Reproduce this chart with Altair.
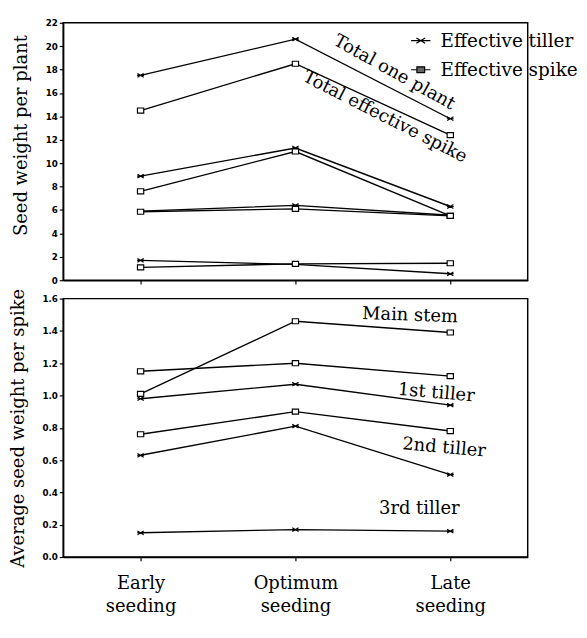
import json
import altair as alt
import pandas as pd

# ---------------- data ----------------
seedings = ["Early seeding", "Optimum seeding", "Late seeding"]
types = ["Effective tiller", "Effective spike"]

# upper panel: seed weight per plant
top_total_tiller = [17.5, 20.6, 13.8]
top_total_spike = [14.5, 18.5, 12.4]
top_main_tiller = [8.9, 11.3, 6.3]
top_main_spike = [7.6, 11.0, 5.5]
top_1st_tiller = [5.9, 6.4, 5.55]
top_1st_spike = [5.85, 6.1, 5.5]
top_2nd_tiller = [1.7, 1.35, 0.55]
top_2nd_spike = [1.1, 1.4, 1.45]

# lower panel: average seed weight per spike
bot_main_spike = [1.01, 1.46, 1.39]
bot_1st_spike = [1.15, 1.20, 1.12]
bot_1st_tiller = [0.98, 1.07, 0.94]
bot_2nd_spike = [0.76, 0.90, 0.78]
bot_2nd_tiller = [0.63, 0.81, 0.51]
bot_3rd_tiller = [0.15, 0.17, 0.16]

# curve labels (seeding position index, value, text angle)
top_labels = ["Total one plant", "Total effective spike"]
top_label_pos = [1.64, 1.58]
top_label_val = [17.8, 14.0]
top_label_angle = [29, 27]

bot_labels = ["Main stem", "1st tiller", "2nd tiller", "3rd tiller"]
bot_label_pos = [1.74, 1.91, 1.96, 1.80]
bot_label_val = [1.50, 1.02, 0.68, 0.30]
bot_label_angle = [2, 5, 5, 0]

# ---------------- tables ----------------
def long_table(series):
    rows = []
    for name, typ, vals in series:
        for i, v in enumerate(vals):
            rows.append({"key": name + "|" + typ, "type": typ, "pos": i,
                         "seeding": seedings[i], "value": v})
    return pd.DataFrame(rows)

top_df = long_table([
    ("Total", "Effective tiller", top_total_tiller),
    ("Total", "Effective spike", top_total_spike),
    ("Main stem", "Effective tiller", top_main_tiller),
    ("Main stem", "Effective spike", top_main_spike),
    ("1st tiller", "Effective tiller", top_1st_tiller),
    ("1st tiller", "Effective spike", top_1st_spike),
    ("2nd tiller", "Effective tiller", top_2nd_tiller),
    ("2nd tiller", "Effective spike", top_2nd_spike),
])
bot_df = long_table([
    ("Main stem", "Effective spike", bot_main_spike),
    ("1st tiller", "Effective spike", bot_1st_spike),
    ("1st tiller", "Effective tiller", bot_1st_tiller),
    ("2nd tiller", "Effective spike", bot_2nd_spike),
    ("2nd tiller", "Effective tiller", bot_2nd_tiller),
    ("3rd tiller", "Effective tiller", bot_3rd_tiller),
])
top_ann = pd.DataFrame({"label": top_labels, "pos": top_label_pos,
                        "value": top_label_val, "angle": top_label_angle})
bot_ann = pd.DataFrame({"label": bot_labels, "pos": bot_label_pos,
                        "value": bot_label_val, "angle": bot_label_angle})

# ---------------- styling ----------------
TILLER = "M-1,-0.6L1,0.6M-1,0.6L1,-0.6M-1.1,0L1.1,0"
SPIKE = "M-1,-0.8L1,-0.8L1,0.8L-1,0.8Z"
TILLER_KEY = "M-2,0L2,0M-0.9,-0.55L0.9,0.55M-0.9,0.55L0.9,-0.55"
SPIKE_KEY = "M-2,0L-0.8,0M0.8,0L2,0M-0.8,-0.6L0.8,-0.6L0.8,0.6L-0.8,0.6Z"
SERIF = "DejaVu Serif"

label_expr = "split(" + json.dumps(seedings) + "[datum.value], ' ')"


def xenc(bottom):
    if bottom:
        axis = alt.Axis(values=[0, 1, 2], labelExpr=label_expr, title=None,
                        labelFont=SERIF, labelFontSize=18.5, labelFontWeight="normal",
                        labelLineHeight=23, labelPadding=14, grid=False)
    else:
        axis = alt.Axis(values=[0, 1, 2], labels=False, title=None, grid=False)
    return alt.X("pos:Q", scale=alt.Scale(domain=[-0.5, 2.5], nice=False, zero=False),
                 axis=axis)


y_top = alt.Y("value:Q", scale=alt.Scale(domain=[0, 22], nice=False),
              axis=alt.Axis(title="Seed weight per plant", values=list(range(0, 23, 2)),
                            titleY=116))
y_bot = alt.Y("value:Q", scale=alt.Scale(domain=[0, 1.6], nice=False),
              axis=alt.Axis(title="Average seed weight per spike", format=".1f",
                            values=[round(i * 0.2, 1) for i in range(9)]))

shape_marks = alt.Shape("type:N", scale=alt.Scale(domain=types, range=[TILLER, SPIKE]),
                        legend=None)


def panel(df, ann, y, bottom, with_legend):
    base = alt.Chart(df)
    lines = base.mark_line(color="black", strokeWidth=1.4).encode(
        x=xenc(bottom), y=y, detail="key:N")
    points = base.mark_point(size=42, fill="white", stroke="black", strokeWidth=1.2,
                             opacity=1).encode(x=xenc(bottom), y=y, shape=shape_marks)
    text = alt.Chart(ann).mark_text(font=SERIF, fontSize=18.5, color="black",
                                    align="center", baseline="middle").encode(
        x=xenc(bottom), y=y, text="label:N", angle=alt.Angle("angle:Q", scale=None))
    layers = [lines, points]
    if with_legend:
        key = base.transform_filter("false").mark_point(
            fill="#666", stroke="black", strokeWidth=1.2, opacity=1).encode(
            x=xenc(bottom), y=y,
            shape=alt.Shape("type:N",
                            scale=alt.Scale(domain=types, range=[TILLER_KEY, SPIKE_KEY]),
                            legend=alt.Legend(title=None, orient="none", legendX=360,
                                              legendY=9, symbolSize=100,
                                              symbolStrokeWidth=1.2, symbolOpacity=1,
                                              labelFont=SERIF, labelFontSize=19,
                                              labelColor="black", labelOffset=11,
                                              rowPadding=10, padding=0)))
        layers.append(key)
    layers.append(text)
    ch = alt.layer(*layers)
    if with_legend:
        ch = ch.resolve_scale(shape="independent")
    return ch


top = panel(top_df, top_ann, y_top, False, True).properties(width=480, height=266)
bottom = panel(bot_df, bot_ann, y_bot, True, False).properties(width=480, height=267)

chart = alt.vconcat(top, bottom, spacing=19, bounds="flush").configure_view(
    stroke="black", strokeWidth=1.5
).configure_axis(
    domainColor="black", domainWidth=1.5, tickColor="black", tickWidth=1.2, tickSize=4,
    labelFont="DejaVu Sans", labelFontWeight="bold", labelFontSize=9, labelColor="black",
    labelPadding=2, titleFont=SERIF, titleFontSize=18.5, titleFontWeight="normal",
    titleColor="black", titlePadding=15, grid=False
).properties(padding=0, background="white")

chart.save("out.html", embed_options={"renderer": "svg", "actions": False})
